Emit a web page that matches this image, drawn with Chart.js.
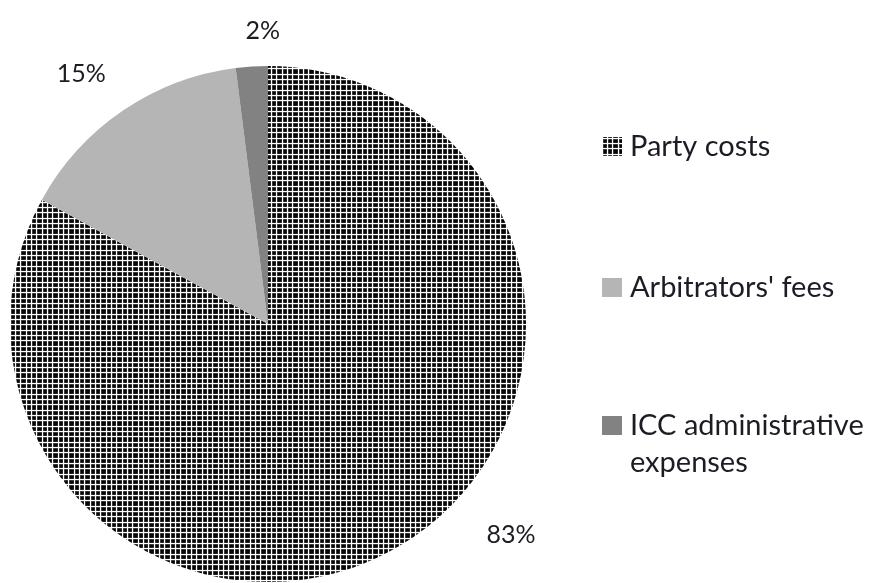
<!DOCTYPE html>
<html>
<head>
<meta charset="utf-8">
<script src="https://cdn.jsdelivr.net/npm/chart.js@4"></script>
<style>
html,body{margin:0;padding:0;background:#fff;}
#wrap{width:869px;height:583px;position:relative;}
</style>
</head>
<body>
<div id="wrap"><canvas id="c" width="869" height="583"></canvas></div>
<script>
const categories = ["Party costs", "Arbitrators' fees", "ICC administrative expenses"];
const values = [83, 15, 2];
const pctLabels = ["83%", "15%", "2%"];
const legendLines = [["Party costs"], ["Arbitrators' fees"], ["ICC administrative", "expenses"]];

// styles
const FONT = "Lato, 'Open Sans', sans-serif";
const labelStyle = { radial: [63, 55, 36], angleShiftDeg: [-18.6, -2.4, 2.6], size: 25 };
const legendStyle = { x: 602, boxW: 20, boxH: 19, textX: 630, baselines: [156, 297, 435], lineH: 37, size: 29 };

function makePattern() {
  const t = document.createElement('canvas');
  t.width = 16; t.height = 16;
  const g = t.getContext('2d');
  g.fillStyle = '#ffffff';
  g.fillRect(0, 0, 16, 16);
  const cells = [[0, 5], [5, 6], [11, 5]];
  g.fillStyle = '#6a6a6a';
  for (const [x, w] of cells) for (const [y, h] of cells) g.fillRect(x, y, w - 1, h - 1);
  g.fillStyle = '#050505';
  for (const [x, w] of cells) for (const [y, h] of cells) g.fillRect(x + 0.5, y + 0.5, w - 1.8, h - 1.8);
  return document.getElementById('c').getContext('2d').createPattern(t, 'repeat');
}
const pattern = makePattern();
const colors = [pattern, '#b5b5b5', '#828282'];

const overlay = {
  id: 'overlay',
  afterDraw(chart) {
    const ctx = chart.ctx;
    const meta = chart.getDatasetMeta(0);
    ctx.save();
    ctx.fillStyle = '#1c1c24';
    ctx.textAlign = 'center';
    ctx.textBaseline = 'alphabetic';
    ctx.font = labelStyle.size + 'px ' + FONT;
    meta.data.forEach((arc, i) => {
      const p = arc.getProps(['x', 'y', 'startAngle', 'endAngle', 'outerRadius'], true);
      const a = (p.startAngle + p.endAngle) / 2 + labelStyle.angleShiftDeg[i] * Math.PI / 180;
      const r = p.outerRadius + labelStyle.radial[i];
      ctx.fillText(pctLabels[i], p.x + Math.cos(a) * r, p.y + Math.sin(a) * r + 0.36 * labelStyle.size);
    });
    // legend
    ctx.textAlign = 'left';
    ctx.font = legendStyle.size + 'px ' + FONT;
    legendLines.forEach((lines, i) => {
      const y = legendStyle.baselines[i];
      ctx.fillStyle = colors[i];
      ctx.fillRect(legendStyle.x, y - legendStyle.boxH, legendStyle.boxW, legendStyle.boxH);
      ctx.fillStyle = '#1c1c24';
      lines.forEach((ln, j) => ctx.fillText(ln, legendStyle.textX, y + j * legendStyle.lineH));
    });
    ctx.restore();
  }
};

new Chart(document.getElementById('c'), {
  type: 'pie',
  data: {
    labels: categories,
    datasets: [{ data: values, backgroundColor: colors, borderWidth: 0 }]
  },
  options: {
    responsive: false,
    animation: false,
    layout: { padding: { left: 10, right: 343, top: 66, bottom: 1 } },
    plugins: { legend: { display: false }, tooltip: { enabled: false } }
  },
  plugins: [overlay]
});
</script>
</body>
</html>
